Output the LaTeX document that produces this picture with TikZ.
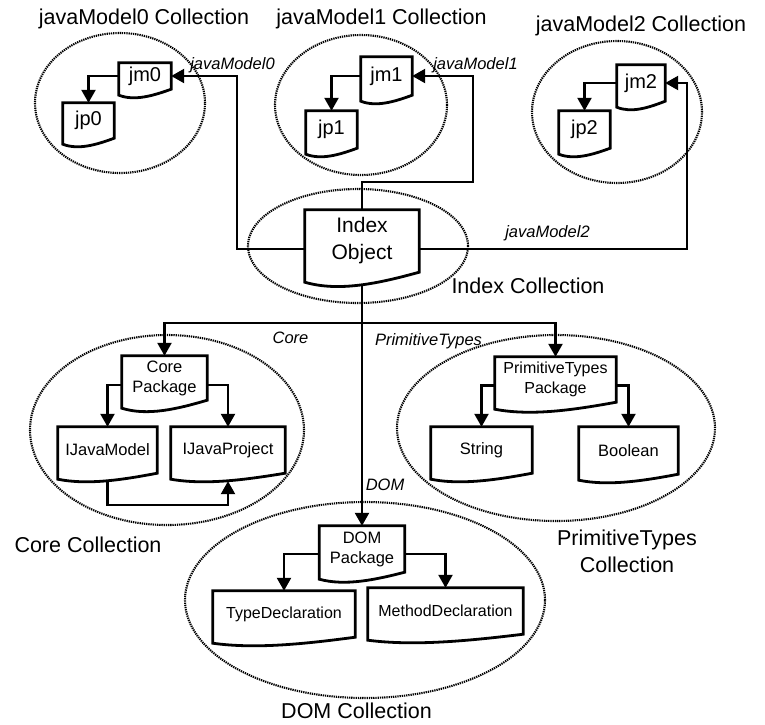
\documentclass[tikz,border=0pt]{standalone}
\usepackage{fontspec}
\setmainfont{Liberation Sans}
\usetikzlibrary{arrows.meta,calc,shapes.geometric}
\newcommand\docout[2]{\draw[docline] (#1.south east) -- (#1.north east) -- (#1.north west) -- ($(#1.south west)+(0,#2)$) .. controls ($(#1.south west)!0.3!(#1.south east)+(0,2*#2)$) and ($(#1.south west)!0.65!(#1.south east)+(0,1.1*#2)$) .. (#1.south east) -- cycle;}
\tikzset{
  docbox/.style={draw=none, inner sep=0pt, align=center, font=\fontsize{16.5}{20}\selectfont},
  bigdoc/.style={docbox, font=\fontsize{20}{24}\selectfont},
  docline/.style={line width=2.8pt, line join=miter},
  conn/.style={line width=2.3pt, -{Triangle[length=13pt,width=14pt]}},
  wire/.style={line width=2.3pt},
  coll/.style={ellipse, draw, line width=2.1pt, dash pattern=on 1.3pt off 0.9pt, inner sep=0pt},
  title/.style={font=\fontsize{21.5}{27}\selectfont, align=center, inner sep=0pt},
  lbl/.style={font=\fontsize{16.5}{20}\selectfont\itshape, inner sep=0pt},
}
\begin{document}
\begin{tikzpicture}[x=1pt,y=-1pt]
\useasboundingbox (0,0) rectangle (765,724);
% collections
\node[coll, minimum width=170, minimum height=140] (e0) at (120,103) {};
\node[coll, minimum width=172, minimum height=140] (e1) at (361,105) {};
\node[coll, minimum width=170, minimum height=142] (e2) at (617,112) {};
\node[coll, minimum width=220, minimum height=114] (eix) at (358,246) {};
\node[coll, minimum width=274, minimum height=190] (ecore) at (167,430) {};
\node[coll, minimum width=318, minimum height=186] (ept) at (556,428) {};
\node[coll, minimum width=360, minimum height=196] (edom) at (365,600) {};
% titles
\node[title] (t0) at (144,19) {javaModel0 Collection};
\node[title] (t1) at (381.5,19) {javaModel1 Collection};
\node[title] (t2) at (641,26) {javaModel2 Collection};
\node[title] (tix) at (528,286) {Index Collection};
\node[title] (tcore) at (88,545) {Core Collection};
\node[title] (tpt) at (627,551) {PrimitiveTypes\\Collection};
\node[title] (tdom) at (356.5,711) {DOM Collection};
% documents
\node[bigdoc, minimum width=52, minimum height=26] (jm0) at (145,76) {jm0};
\node[bigdoc, minimum width=51, minimum height=35] (jp0) at (88.5,120.5) {jp0};
\node[bigdoc, minimum width=51, minimum height=38] (jm1) at (386.5,76) {jm1};
\node[bigdoc, minimum width=51, minimum height=37] (jp1) at (331.5,129.5) {jp1};
\node[bigdoc, minimum width=48, minimum height=36] (jm2) at (641,83) {jm2};
\node[bigdoc, minimum width=51, minimum height=37] (jp2) at (584.5,129.5) {jp2};
\node[docbox, font=\fontsize{21}{27}\selectfont, minimum width=114, minimum height=62] (ix) at (362,241) {Index\\Object};
\node[docbox, minimum width=85, minimum height=44] (cp) at (164.5,378) {Core\\Package};
\node[docbox, minimum width=99, minimum height=46] (ijm) at (107.5,450) {IJavaModel};
\node[docbox, minimum width=114, minimum height=46] (ijp) at (228,450) {IJavaProject};
\node[docbox, font=\fontsize{16}{20}\selectfont, minimum width=121, minimum height=45] (pt) at (555.5,379.5) {PrimitiveTypes\\Package};
\node[docbox, minimum width=101, minimum height=46] (str) at (481.5,450) {String};
\node[docbox, minimum width=99, minimum height=47] (bool) at (628.5,450.5) {Boolean};
\node[docbox, minimum width=85, minimum height=46] (dom) at (362,549) {DOM\\Package};
\node[docbox, font=\fontsize{16}{20}\selectfont, minimum width=142, minimum height=46] (td) at (284,614) {TypeDeclaration};
\node[docbox, font=\fontsize{16}{20}\selectfont, minimum width=155, minimum height=46] (md) at (445.5,611) {MethodDeclaration};
\docout{jm0}{6}
\docout{jp0}{6}
\docout{jm1}{6}
\docout{jp1}{6}
\docout{jm2}{6}
\docout{jp2}{6}
\docout{ix}{10}
\docout{cp}{8}
\docout{ijm}{6}
\docout{ijp}{6}
\docout{pt}{7}
\docout{str}{6}
\docout{bool}{6}
\docout{dom}{7}
\docout{td}{6}
\docout{md}{6}
% connectors inside collections
\draw[conn] (jm0.west) -| (jp0.north);
\draw[conn] (jm1.west) -| (jp1.north);
\draw[conn] (jm2.west) -| (jp2.north);
\draw[conn] ([yshift=-7pt]cp.west) -| (ijm.north);
\draw[conn] ([yshift=-7pt]cp.east) -| (ijp.north);
\draw[conn] ([yshift=-6pt]pt.west) -| (str.north);
\draw[conn] ([yshift=-6pt]pt.east) -| (bool.north);
\draw[conn] ([yshift=-5pt]dom.west) -| (td.north);
\draw[conn] ([yshift=-5pt]dom.east) -| (md.north);
\draw[conn] ($(ijm.south)+(0,8)$) |- ($(ijp.south)+(0,32)$) -- ($(ijp.south)+(0,8)$);
% index connectors
\draw[conn] ([yshift=-8pt]ix.west) -| ($(jm0.east)+(66,0)$) -- (jm0.east);
\draw[conn] (ix.north) -- ++(0,-28) -| ($(jm1.east)+(61,0)$) -- (jm1.east);
\draw[conn] ([yshift=-8pt]ix.east) -| ($(jm2.east)+(22,0)$) -- (jm2.east);
\coordinate (ixb) at ($(ix.south)+(0,13)$);
\coordinate (br) at (362,323);
\draw[wire] (ixb) -- (br);
\draw[conn] (br) -- (dom.north);
\draw[conn] (br) -| (cp.north);
\draw[conn] (br) -| (pt.north);
% labels
\node[lbl] (l0) at (232.5,65) {javaModel0};
\node[lbl] (l1) at (475.5,65) {javaModel1};
\node[lbl] (l2) at (547.5,233) {javaModel2};
\node[lbl] (lc) at (290.5,338) {Core};
\node[lbl] (lp) at (428.5,341) {PrimitiveTypes};
\node[lbl] (ld) at (385,485) {DOM};
\end{tikzpicture}
\end{document}
